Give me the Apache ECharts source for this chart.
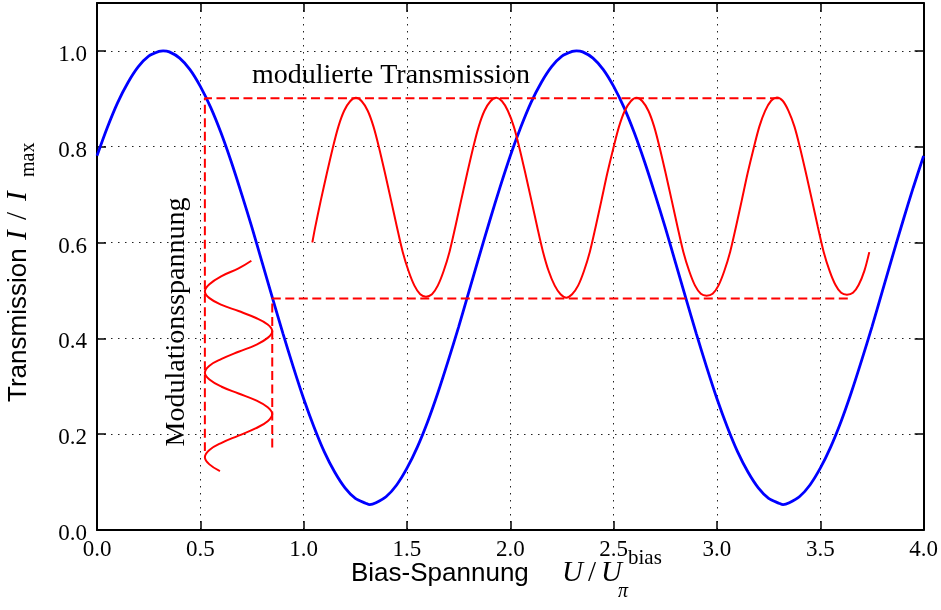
<!DOCTYPE html>
<html>
<head>
<meta charset="utf-8">
<script src="https://cdn.jsdelivr.net/npm/echarts@6/dist/echarts.min.js"></script>
<style>
    html, body {
        margin: 0;
        padding: 0;
        background: #fff;
    }
    #chart {
        width: 941px;
        height: 610px;
    }
</style>
</head>
<body>
<div id="chart"></div>
<script>
    // Kennlinie (blau): Transmission über der Bias-Spannung
    var biasX = [0.00, 0.05, 0.10, 0.15, 0.20, 0.25, 0.30, 0.32, 0.35, 0.40, 0.45,
        0.50, 0.55, 0.60, 0.65, 0.70, 0.75, 0.80, 0.85, 0.90, 0.95,
        1.00, 1.05, 1.10, 1.15, 1.20, 1.25, 1.30, 1.32, 1.35, 1.40, 1.45,
        1.50, 1.55, 1.60, 1.65, 1.70, 1.75, 1.80, 1.85, 1.90, 1.95,
        2.00, 2.05, 2.10, 2.15, 2.20, 2.25, 2.30, 2.32, 2.35, 2.40, 2.45,
        2.50, 2.55, 2.60, 2.65, 2.70, 2.75, 2.80, 2.85, 2.90, 2.95,
        3.00, 3.05, 3.10, 3.15, 3.20, 3.25, 3.30, 3.32, 3.35, 3.40, 3.45,
        3.50, 3.55, 3.60, 3.65, 3.70, 3.75, 3.80, 3.85, 3.90, 3.95, 4.00]
    var transmission = [0.781, 0.840, 0.892, 0.934, 0.967, 0.989, 0.999, 1.000, 0.998, 0.985, 0.961,
        0.926, 0.882, 0.829, 0.768, 0.701, 0.631, 0.557, 0.483, 0.410, 0.340,
        0.274, 0.215, 0.163, 0.121, 0.088, 0.066, 0.056, 0.053, 0.057, 0.070, 0.094,
        0.129, 0.173, 0.226, 0.287, 0.354, 0.424, 0.498, 0.572, 0.645, 0.715,
        0.781, 0.840, 0.892, 0.934, 0.967, 0.989, 0.999, 1.000, 0.998, 0.985, 0.961,
        0.926, 0.882, 0.829, 0.768, 0.701, 0.631, 0.557, 0.483, 0.410, 0.340,
        0.274, 0.215, 0.163, 0.121, 0.088, 0.066, 0.056, 0.053, 0.057, 0.070, 0.094,
        0.129, 0.173, 0.226, 0.287, 0.354, 0.424, 0.498, 0.572, 0.645, 0.715, 0.781]

    // modulierte Transmission (rot)
    var modTransX = [1.042, 1.055, 1.083, 1.112, 1.140, 1.168, 1.196, 1.225,
        1.253, 1.281, 1.310, 1.338, 1.366, 1.394, 1.423, 1.451, 1.479, 1.508, 1.536, 1.564,
        1.592, 1.621, 1.649, 1.677, 1.706, 1.734, 1.762, 1.791, 1.819, 1.847, 1.875, 1.904,
        1.932, 1.960, 1.988, 2.017, 2.045, 2.073, 2.102, 2.130, 2.158, 2.186, 2.215, 2.243,
        2.271, 2.299, 2.328, 2.356, 2.385, 2.413, 2.441, 2.469, 2.498, 2.526, 2.554, 2.583,
        2.611, 2.639, 2.668, 2.696, 2.724, 2.752, 2.781, 2.809, 2.837, 2.866, 2.894, 2.922,
        2.950, 2.979, 3.007, 3.035, 3.064, 3.092, 3.120, 3.148, 3.177, 3.205, 3.233, 3.262,
        3.290, 3.318, 3.346, 3.375, 3.403, 3.431, 3.460, 3.488, 3.516, 3.545, 3.573, 3.601,
        3.629, 3.658, 3.686, 3.714, 3.737]
    var modTransY = [0.600, 0.630, 0.688, 0.744, 0.796, 0.842, 0.875, 0.895,
        0.902, 0.895, 0.875, 0.842, 0.796, 0.744, 0.688, 0.633, 0.581, 0.540, 0.510, 0.492,
        0.487, 0.492, 0.510, 0.540, 0.581, 0.633, 0.688, 0.744, 0.796, 0.842, 0.875, 0.895,
        0.902, 0.895, 0.875, 0.842, 0.796, 0.744, 0.688, 0.633, 0.581, 0.540, 0.510, 0.492,
        0.485, 0.492, 0.510, 0.540, 0.581, 0.633, 0.688, 0.744, 0.796, 0.842, 0.875, 0.895,
        0.902, 0.895, 0.875, 0.842, 0.796, 0.744, 0.688, 0.633, 0.581, 0.540, 0.510, 0.493,
        0.489, 0.493, 0.510, 0.540, 0.581, 0.633, 0.688, 0.744, 0.796, 0.842, 0.875, 0.896,
        0.903, 0.896, 0.875, 0.842, 0.796, 0.744, 0.688, 0.633, 0.581, 0.541, 0.512, 0.495,
        0.491, 0.495, 0.512, 0.542, 0.580]

    // Modulationsspannung (rot, senkrecht)
    var modVoltX = [0.747, 0.685, 0.603, 0.544, 0.522, 0.544, 0.603, 0.685, 0.767, 0.826,
        0.848, 0.826, 0.767, 0.685, 0.603, 0.544, 0.522, 0.544, 0.603, 0.685,
        0.767, 0.826, 0.848, 0.826, 0.767, 0.685, 0.603, 0.544, 0.522, 0.544, 0.595]
    var modVoltY = [0.562, 0.546, 0.530, 0.513, 0.498, 0.484, 0.470, 0.457, 0.443, 0.429,
        0.415, 0.401, 0.386, 0.372, 0.357, 0.343, 0.328, 0.314, 0.299, 0.285,
        0.271, 0.256, 0.242, 0.227, 0.212, 0.197, 0.182, 0.167, 0.152, 0.137, 0.123]

    // gestrichelte Hilfslinien
    var upperGuideX = [3.300, 0.522, 0.522]
    var upperGuideY = [0.901, 0.901, 0.165]
    var lowerGuideX = [3.633, 0.848, 0.848]
    var lowerGuideY = [0.483, 0.483, 0.168]

    var xMin = 0, xMax = 4, xStep = 0.5
    var yMin = 0, yMax = 1.1, yStep = 0.2

    function zip(xs, ys) {
        return xs.map(function (x, i) { return [x, ys[i]] })
    }

    var serif = 'Liberation Serif'
    var sans = 'Liberation Sans'
    var frame = { color: '#000', width: 2 }
    var ticks = { show: true, inside: true, length: 9, lineStyle: { color: '#000', width: 1.5 } }
    var dotted = { color: '#222', width: 1, type: [1.5, 5.5] }
    var dashed = { color: '#ff0000', width: 2, type: [9, 4.5] }

    function txt(text, x, y, font, align) {
        return {
            type: 'text', x: x, y: y, silent: true,
            style: {
                text: text, font: font, fill: '#000',
                align: align || 'left', textAlign: align || 'left',
                verticalAlign: 'middle', textVerticalAlign: 'middle'
            }
        }
    }

    var chart = echarts.init(document.getElementById('chart'), null, { renderer: 'canvas' })
    chart.setOption({
        animation: false,
        backgroundColor: '#fff',
        grid: { left: 97, top: 3, width: 827, height: 527, containLabel: false },
        xAxis: [
            {
                type: 'value', min: xMin, max: xMax, interval: xStep, position: 'bottom',
                axisLine: { show: true, onZero: false, lineStyle: frame },
                axisTick: ticks,
                axisLabel: {
                    margin: 8, color: '#000', fontFamily: serif, fontSize: 23,
                    formatter: function (v) { return v.toFixed(1) }
                },
                splitLine: { show: true, lineStyle: dotted }
            },
            {
                type: 'value', min: xMin, max: xMax, interval: xStep, position: 'top',
                axisLine: { show: true, onZero: false, lineStyle: frame },
                axisTick: ticks,
                axisLabel: { show: false },
                splitLine: { show: false }
            }
        ],
        yAxis: [
            {
                type: 'value', min: yMin, max: yMax, interval: yStep, position: 'left',
                axisLine: { show: true, onZero: false, lineStyle: frame },
                axisTick: ticks,
                axisLabel: {
                    margin: 10, color: '#000', showMaxLabel: false,
                    formatter: function (v) {
                        var onTick = Math.abs(v / yStep - Math.round(v / yStep)) < 1e-6
                        return onTick ? '{t|' + v.toFixed(1) + '}' : ''
                    },
                    rich: {
                        t: { fontFamily: serif, fontSize: 23, color: '#000', padding: [8, 0, 0, 0] }
                    }
                },
                splitLine: { show: true, lineStyle: dotted }
            },
            {
                type: 'value', min: yMin, max: yMax, interval: yStep, position: 'right',
                axisLine: { show: true, onZero: false, lineStyle: frame },
                axisTick: ticks,
                axisLabel: { show: false },
                splitLine: { show: false }
            }
        ],
        series: [
            {
                name: 'Transmission', type: 'line', data: zip(biasX, transmission),
                smooth: 0.3, showSymbol: false, silent: true,
                lineStyle: { color: '#0000ff', width: 2.8 }, itemStyle: { color: '#0000ff' }
            },
            {
                name: 'Hilfslinie oben', type: 'line', data: zip(upperGuideX, upperGuideY),
                showSymbol: false, silent: true, lineStyle: dashed, itemStyle: { color: '#ff0000' }
            },
            {
                name: 'Hilfslinie unten', type: 'line', data: zip(lowerGuideX, lowerGuideY),
                showSymbol: false, silent: true, lineStyle: dashed, itemStyle: { color: '#ff0000' }
            },
            {
                name: 'modulierte Transmission', type: 'line', data: zip(modTransX, modTransY),
                smooth: 0.3, showSymbol: false, silent: true,
                lineStyle: { color: '#ff0000', width: 2 }, itemStyle: { color: '#ff0000' }
            },
            {
                name: 'Modulationsspannung', type: 'line', data: zip(modVoltX, modVoltY),
                smooth: 0.4, showSymbol: false, silent: true,
                lineStyle: { color: '#ff0000', width: 2 }, itemStyle: { color: '#ff0000' }
            }
        ],
        graphic: [
            // x-Achsenbeschriftung
            txt('Bias-Spannung', 351, 574, '26px ' + sans),
            txt('U', 562, 573, 'italic 29px ' + serif),
            txt('/', 588, 573, '29px ' + serif),
            txt('U', 601, 573, 'italic 29px ' + serif),
            txt('bias', 628, 558, '21px ' + serif),
            txt('π', 618, 592, 'italic 20px ' + serif),
            // y-Achsenbeschriftung (gedreht)
            {
                type: 'group', x: 28, y: 402, rotation: Math.PI / 2, silent: true,
                children: [
                    txt('Transmission', 0, -9, '26px ' + sans),
                    txt('I', 162, -10, 'italic 29px ' + serif),
                    txt('/', 182, -10, '29px ' + serif),
                    txt('I', 201, -10, 'italic 29px ' + serif),
                    txt('max', 225, 1, '20px ' + serif)
                ]
            },
            // Annotationen
            txt('modulierte Transmission', 391, 76, '28px ' + serif, 'center'),
            {
                type: 'group', x: 186, y: 322, rotation: Math.PI / 2, silent: true,
                children: [
                    txt('Modulationsspannung', 0, -9.5, '28px ' + serif, 'center')
                ]
            }
        ]
    })
</script>
</body>
</html>
